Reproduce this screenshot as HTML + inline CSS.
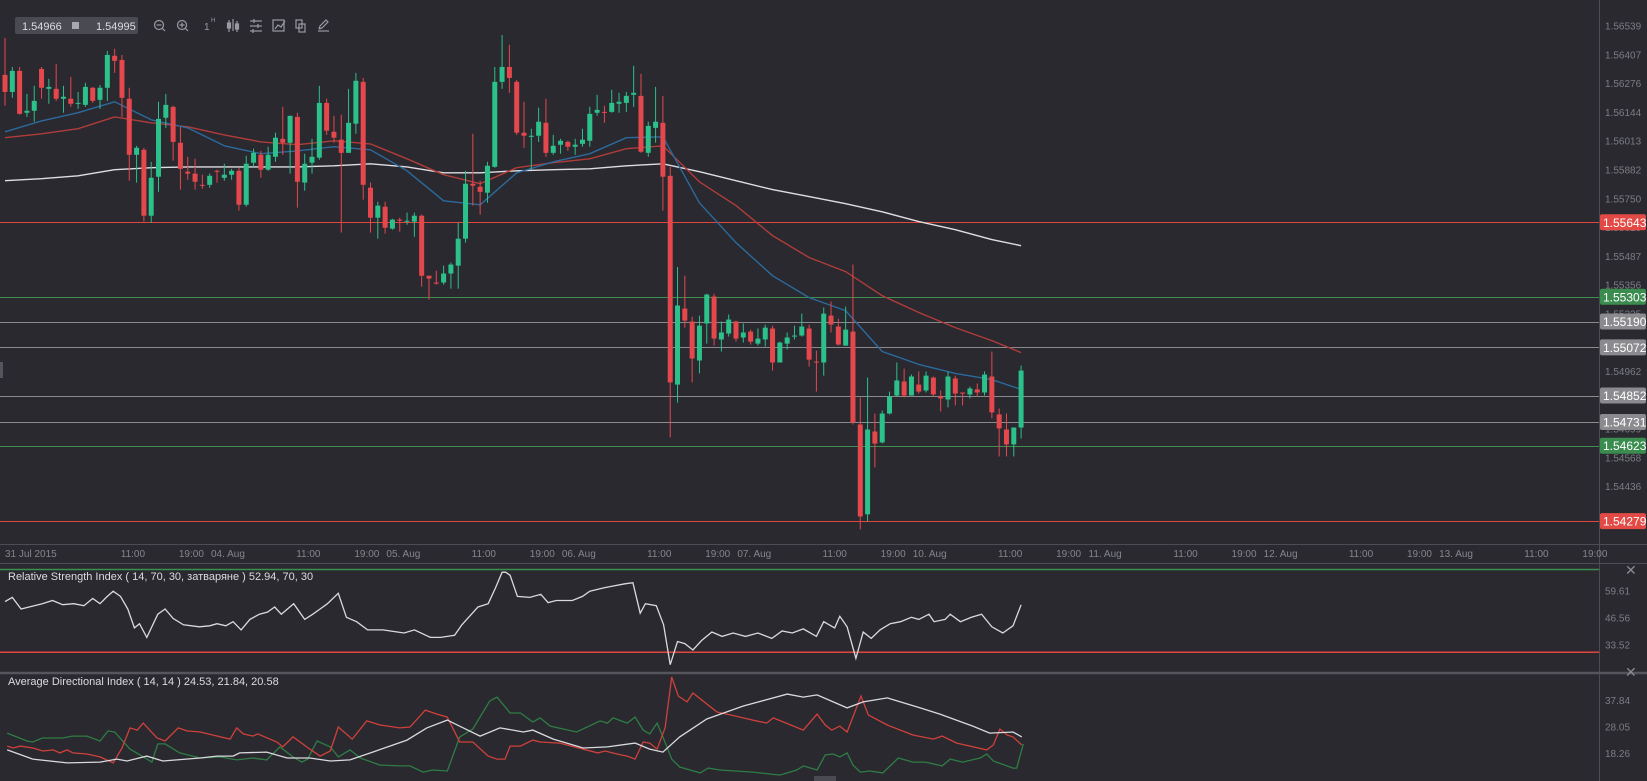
<!DOCTYPE html>
<html><head><meta charset="utf-8"><title>GBP chart</title>
<style>
html,body{margin:0;padding:0;background:#29292f;}
svg{display:block;font-family:"Liberation Sans",sans-serif;}
</style></head>
<body>
<svg id="chart" width="1647" height="781" viewBox="0 0 1647 781" xmlns="http://www.w3.org/2000/svg">
<rect x="0" y="0" width="1647" height="781" fill="#29292f"/>
<g id="levels"></g>
<g id="mas"></g>
<g id="candles"></g>
<g id="paxis"></g>
<g id="taxis"></g>
<g id="rsi"></g>
<g id="adx"></g>
<g>
  <rect x="15" y="17" width="123" height="17" rx="2" fill="#4a4a53"/>
  <text x="22" y="30" font-size="11" fill="#dcdce0">1.54966</text>
  <rect x="72" y="22" width="7" height="7" fill="#a8a8b0"/>
  <text x="96" y="30" font-size="11" fill="#dcdce0">1.54995</text>
  <g stroke="#9a9aa2" fill="none" stroke-width="1.2"><circle cx="159" cy="25" r="4.5"/><line x1="156.5" y1="25" x2="161.5" y2="25"/><line x1="162.5" y1="28.5" x2="165" y2="31"/></g>
  <g stroke="#9a9aa2" fill="none" stroke-width="1.2"><circle cx="182" cy="25" r="4.5"/><line x1="179.5" y1="25" x2="184.5" y2="25"/><line x1="182" y1="22.5" x2="182" y2="27.5"/><line x1="185.5" y1="28.5" x2="188" y2="31"/></g>
  <text x="204" y="30" font-size="10" fill="#9a9aa2">1</text>
  <text x="211" y="22" font-size="6" fill="#9a9aa2">H</text>
  <g stroke="#9a9aa2" stroke-width="1.2"><line x1="229" y1="20" x2="229" y2="32"/><line x1="233" y1="19" x2="233" y2="31"/><line x1="237" y1="21" x2="237" y2="32"/><rect x="227.5" y="23" width="3" height="5" fill="#9a9aa2"/><rect x="235.5" y="24" width="3" height="5" fill="#9a9aa2"/></g>
  <g stroke="#9a9aa2" stroke-width="1.2"><line x1="250" y1="21" x2="262" y2="21"/><line x1="250" y1="26" x2="262" y2="26"/><line x1="250" y1="31" x2="262" y2="31"/><line x1="254" y1="19" x2="254" y2="23"/><line x1="258" y1="24" x2="258" y2="28"/><line x1="253" y1="29" x2="253" y2="33"/></g>
  <g stroke="#9a9aa2" fill="none" stroke-width="1.2"><rect x="273" y="20" width="11" height="11"/><polyline points="275,29 278,25 281,27 285,21"/></g>
  <g stroke="#9a9aa2" fill="none" stroke-width="1.2"><rect x="296" y="20" width="6" height="8"/><rect x="299" y="24" width="6" height="8"/></g>
  <g stroke="#9a9aa2" fill="none" stroke-width="1.2"><line x1="318" y1="31" x2="329" y2="31"/><polyline points="319,29 320,26 326,20 328,22 322,28 319,29"/></g>
</g>
<rect x="0" y="362" width="3" height="16" fill="#55555d"/>
<rect x="814" y="776" width="22" height="5" fill="#4a4a53"/>
</svg>
<script>
// ---------------- data ----------------
const openP=[1.56316,1.56238,1.56334,1.56143,1.56152,1.56343,1.56252,1.56252,1.56207,1.56207,
1.56184,1.56179,1.56257,1.56202,1.56257,1.56403,1.56384,1.56207,1.55951,1.55974,
1.55673,1.55851,1.56120,1.56170,1.56006,1.55874,1.55865,1.55814,1.55814,1.55878,
1.55846,1.55860,1.55878,1.55723,1.55915,1.55951,1.55883,1.55942,1.56024,1.56006,
1.56124,1.55824,1.55915,1.55938,1.56188,1.56056,1.56020,1.55960,1.56093,1.56284,
1.55801,1.55664,1.55714,1.55614,1.55655,1.55646,1.55646,1.55673,1.55399,1.55368,
1.55368,1.55409,1.55445,1.55568,1.55819,1.55805,1.55778,1.55896,1.56284,1.56352,
1.56284,1.56052,1.56033,1.56038,1.56097,1.55960,1.55997,1.56010,1.55988,1.56001,
1.56015,1.56143,1.56147,1.56147,1.56184,1.56188,1.56225,1.56220,1.55960,1.56074,
1.56097,1.55855,1.54902,1.55249,1.55190,1.55012,1.55181,1.55304,1.55108,1.55135,
1.55190,1.55117,1.55144,1.55089,1.55108,1.55158,1.55003,1.55089,1.55121,1.55126,
1.55158,1.55007,1.55003,1.55217,1.55167,1.55080,1.55144,1.54720,1.54310,1.54688,
1.54638,1.54770,1.54852,1.54916,1.54852,1.54902,1.54875,1.54934,1.54848,1.54834,
1.54930,1.54866,1.54857,1.54880,1.54866,1.54939,1.54766,1.54697,1.54629,1.54706];
const highP=[1.56485,1.56352,1.56352,1.56229,1.56266,1.56352,1.56298,1.56366,1.56266,1.56307,
1.56238,1.56280,1.56261,1.56270,1.56425,1.56435,1.56407,1.56257,1.55992,1.55983,
1.55919,1.56193,1.56229,1.56175,1.56079,1.55942,1.55933,1.55860,1.55865,1.55883,
1.55910,1.55887,1.55892,1.55947,1.55979,1.55969,1.55988,1.56052,1.56170,1.56129,
1.56143,1.55956,1.56024,1.56266,1.56207,1.56129,1.56134,1.56252,1.56325,1.56302,
1.55824,1.55737,1.55737,1.55659,1.55664,1.55687,1.55687,1.55678,1.55399,1.55422,
1.55445,1.55459,1.55641,1.55878,1.56047,1.55833,1.55919,1.56352,1.56498,1.56453,
1.56293,1.56193,1.56070,1.56166,1.56207,1.56042,1.56024,1.56015,1.56024,1.56070,
1.56170,1.56225,1.56175,1.56248,1.56234,1.56238,1.56357,1.56321,1.56102,1.56261,
1.56220,1.55896,1.55439,1.55399,1.55212,1.55217,1.55317,1.55317,1.55190,1.55222,
1.55194,1.55181,1.55153,1.55158,1.55176,1.55171,1.55098,1.55140,1.55171,1.55226,
1.55176,1.55057,1.55254,1.55281,1.55203,1.55258,1.55450,1.54843,1.54934,1.54770,
1.54784,1.54870,1.55003,1.54975,1.54948,1.54962,1.54962,1.54939,1.54875,1.54962,
1.54943,1.54866,1.54893,1.54907,1.54962,1.55053,1.54793,1.54770,1.54706,1.54989];
const lowP=[1.56175,1.56211,1.56134,1.56124,1.56102,1.56207,1.56184,1.56197,1.56143,1.56170,
1.56161,1.56170,1.56188,1.56161,1.56197,1.56325,1.56124,1.55833,1.55824,1.55646,
1.55641,1.55782,1.56074,1.55924,1.55792,1.55837,1.55792,1.55796,1.55801,1.55824,
1.55833,1.55837,1.55696,1.55714,1.55896,1.55846,1.55878,1.55919,1.55951,1.55865,
1.55710,1.55787,1.55865,1.55928,1.56042,1.56006,1.55596,1.55960,1.56047,1.55746,
1.55596,1.55568,1.55591,1.55609,1.55600,1.55632,1.55577,1.55349,1.55290,1.55358,
1.55358,1.55340,1.55340,1.55550,1.55719,1.55678,1.55732,1.55892,1.56252,1.56234,
1.56042,1.55983,1.55883,1.56010,1.55942,1.55951,1.55956,1.55969,1.55951,1.55988,
1.55988,1.56129,1.56097,1.56143,1.56143,1.56147,1.56170,1.55960,1.55942,1.56006,
1.55696,1.54661,1.54820,1.55162,1.54912,1.54953,1.55089,1.55080,1.55053,1.55121,
1.55098,1.55094,1.55085,1.55080,1.55076,1.54966,1.55003,1.55062,1.55108,1.55121,
1.54984,1.54870,1.54943,1.55140,1.55080,1.55080,1.54720,1.54241,1.54278,1.54524,
1.54633,1.54766,1.54848,1.54843,1.54852,1.54861,1.54866,1.54848,1.54779,1.54798,
1.54807,1.54807,1.54839,1.54848,1.54852,1.54748,1.54574,1.54574,1.54574,1.54656];
const closeP=[1.56238,1.56334,1.56138,1.56152,1.56197,1.56257,1.56261,1.56207,1.56216,1.56184,
1.56188,1.56261,1.56197,1.56257,1.56407,1.56380,1.56211,1.55951,1.55983,1.55673,
1.55846,1.56115,1.56179,1.56010,1.55887,1.55865,1.55828,1.55810,1.55855,1.55874,
1.55860,1.55878,1.55723,1.55910,1.55960,1.55883,1.55951,1.56029,1.56006,1.56129,
1.55828,1.55910,1.55942,1.56188,1.56061,1.56029,1.55960,1.56097,1.56289,1.55814,
1.55664,1.55719,1.55618,1.55655,1.55650,1.55650,1.55673,1.55399,1.55386,1.55363,
1.55409,1.55450,1.55568,1.55819,1.55810,1.55782,1.55901,1.56284,1.56352,1.56302,
1.56052,1.56038,1.56038,1.56102,1.55960,1.55992,1.56015,1.55988,1.55997,1.56020,
1.56138,1.56156,1.56143,1.56188,1.56193,1.56220,1.56234,1.55965,1.56083,1.56102,
1.55851,1.54912,1.55263,1.55194,1.55021,1.55171,1.55313,1.55112,1.55140,1.55199,
1.55112,1.55140,1.55098,1.55112,1.55162,1.55003,1.55094,1.55117,1.55126,1.55167,
1.55016,1.55003,1.55226,1.55176,1.55085,1.55153,1.54729,1.54300,1.54697,1.54633,
1.54770,1.54848,1.54921,1.54852,1.54939,1.54870,1.54943,1.54857,1.54839,1.54939,
1.54861,1.54861,1.54884,1.54866,1.54948,1.54775,1.54702,1.54629,1.54706,1.54966];

const maIdx=[0,5,10,15,20,25,30,35,40,45,50,55,60,65,70,75,80,85,90,95,100,105,110,115,120,125,130,135,139];
const maFast=[1.56056,1.56106,1.56143,1.56193,1.56111,1.56074,1.55992,1.55956,1.55969,1.55988,1.55974,1.55878,1.55741,1.55723,1.55869,1.55919,1.55956,1.56029,1.56033,1.55732,1.55550,1.55399,1.55299,1.55240,1.55053,1.54994,1.54953,1.54925,1.54880];
const maMid=[1.56029,1.56047,1.56070,1.56124,1.56097,1.56079,1.56042,1.56010,1.55997,1.56015,1.56001,1.55933,1.55860,1.55819,1.55892,1.55915,1.55933,1.55979,1.55992,1.55828,1.55719,1.55582,1.55482,1.55418,1.55308,1.55231,1.55162,1.55103,1.55048];
const maSlow=[1.55833,1.55842,1.55855,1.55883,1.55892,1.55896,1.55896,1.55896,1.55896,1.55901,1.55910,1.55896,1.55869,1.55869,1.55878,1.55883,1.55887,1.55901,1.55910,1.55874,1.55833,1.55792,1.55760,1.55728,1.55691,1.55646,1.55609,1.55564,1.55536];

const levelPrices=[1.55643,1.55303,1.55190,1.55072,1.54852,1.54731,1.54623,1.54279];
const levelKinds=["red","green","gray","gray","gray","gray","green","red"];
const priceTicks=[1.56539,1.56407,1.56276,1.56144,1.56013,1.55882,1.55750,1.55619,1.55487,1.55356,1.55225,1.55093,1.54962,1.54831,1.54699,1.54568,1.54436];

const timeLabels=["11:00","19:00","04. Aug","11:00","19:00","05. Aug","11:00","19:00","06. Aug","11:00","19:00","07. Aug","11:00","19:00","10. Aug","11:00","19:00","11. Aug","11:00","19:00","12. Aug","11:00","19:00","13. Aug","11:00","19:00"];
const timeLabelHours=[0,8,13,24,32,37,48,56,61,72,80,85,96,104,109,120,128,133,144,152,157,168,176,181,192,200];

const rsiIdx=[0,1,2.2,3.3,5.1,6.5,7.9,9.4,10.8,12,13,14,14.8,15.8,16.8,17.7,18.4,19.4,20.9,21.9,23,24.4,26.6,28,29,30.2,31.2,32.3,33.5,34.8,35.9,36.9,37.8,39.5,41,42.1,43.1,44.1,45.6,46.7,48.1,49.6,51.7,54.6,56,58.2,59.6,61.5,62.5,64.7,66.1,67.1,68,68.5,69.1,70.1,71.8,73.3,74.3,75.4,77.6,79,80,81.9,83.3,84.8,85.9,86.9,87.6,89.1,90.1,91,92,93,94.1,95.3,96.7,98.1,99.6,101.3,103,104.9,106.3,107.7,109.2,111,112,113.5,114.2,115.2,116.4,117.4,118.5,119.7,121.1,122.5,124,125,126.4,127.1,128.6,129.3,130.7,132.2,133.6,135,136.5,137.9,139];
const rsiVal=[54.5,56.5,50.9,51.9,53.5,55.0,53.0,53.5,52.5,56.0,53.5,57.0,59.5,57.0,50.9,41.8,43.8,37.2,48.4,50.9,46.4,43.3,42.3,42.8,43.8,42.8,44.8,40.8,45.9,48.4,49.4,51.9,48.4,53.5,45.9,48.4,50.9,53.5,58.5,46.9,44.8,40.8,40.8,39.3,40.8,37.2,37.2,38.2,43.3,51.9,53.5,61.1,68.7,68.7,67.2,57.0,56.5,58.0,54.0,55.0,55.0,57.0,59.5,61.1,62.1,63.1,63.6,48.9,53.5,52.5,43.3,24.0,35.2,34.2,31.1,35.7,39.8,37.7,39.3,37.7,39.3,36.7,40.3,39.3,41.3,37.7,44.8,41.8,47.4,42.3,27.1,39.8,36.7,40.8,43.8,44.8,46.9,45.9,48.4,44.8,45.9,48.4,44.8,46.9,48.4,42.3,39.3,42.8,52.94];
const rsiTicks=[59.61,46.56,33.52];

const pdiIdx=[0.3,3,3.8,5.1,7.9,9.2,11.2,13,14.1,15,17.1,18.5,20.1,20.9,21.9,23.9,26.7,29.4,31.7,33.9,35.8,37.6,39.4,40.6,41.4,42.7,44.5,45.6,47.2,48.6,51.3,54,55.4,57.2,58.5,60.5,62.2,64,66.3,67.3,69.1,70.5,72.2,73.2,74.6,78.2,81.4,82.4,83.2,85.1,86.2,87.3,88.2,89.2,90,91.2,92.3,95.1,96.2,97.8,102.3,106,108.3,109.2,111.1,112.2,113.3,114.2,115.2,116,117,118.3,120.1,122.2,124.2,125.9,128.2,129.3,131,133.4,134.3,135.2,137.9,138.4,139.3];
const pdiVal=[25.8,22.9,22.5,24.0,24.0,24.7,24.7,22.9,26.6,26.2,19.9,17.7,15.1,21.8,21.8,18.5,16.6,17.0,15.9,16.6,15.9,20.7,17.0,15.1,16.2,22.9,20.7,17.0,19.6,16.6,14.0,13.7,13.7,11.4,12.2,11.8,24.4,27.3,37.6,39.1,33.2,33.2,29.9,31.4,28.4,26.2,30.3,29.5,31.4,29.5,31.7,26.9,25.5,29.5,24.4,16.2,13.3,11.1,12.9,12.2,11.4,10.3,12.2,13.7,12.2,17.7,18.1,17.0,18.5,14.0,11.4,11.8,11.1,16.6,15.1,15.1,13.7,16.2,15.1,16.6,18.1,15.5,12.9,12.9,21.8];
const mdiIdx=[0.3,1.1,2.1,3.8,5.2,6.6,7.5,8.5,9.3,11.2,13,14.8,16,17.1,18.1,18.9,20.8,21.9,23.7,24.9,26.7,30.8,31.7,32.6,33.9,34.6,37.2,38,39.4,41.7,43.1,44.5,45.6,47.5,49.5,51.3,54,55.4,57.5,59.1,60.5,62.2,64,66.1,67.3,68.4,69.1,70.5,72.2,73.2,75.9,81.1,82.1,83.7,85.1,86.2,87.3,88.2,89.2,90.3,91.2,92.1,93.3,94.1,97.4,99.2,102.3,104.2,105.1,109.2,111.1,112.2,113.1,114.2,115.2,117.1,118.1,120.7,124.2,127,128.2,130.2,134.3,135.2,136.1,137.1,137.9,139.1];
const mdiVal=[21.0,20.3,21.0,20.3,19.2,19.6,18.5,19.6,18.5,18.1,17.0,14.8,20.3,27.7,26.9,29.5,24.0,22.9,27.7,26.6,26.2,23.6,27.7,25.5,24.7,25.5,22.5,20.7,24.4,19.9,17.3,19.2,28.05,23.6,30.3,28.8,27.7,28.05,34.3,32.8,31.7,22.5,22.5,17.3,16.2,16.2,21.0,21.0,23.2,22.5,22.1,18.5,19.2,18.1,17.3,16.2,22.5,22.1,19.9,27.7,46.5,39.5,37.3,40.6,33.6,32.5,30.6,29.5,31.4,26.9,32.8,28.8,26.9,28.4,26.2,39.5,32.5,28.8,25.1,23.6,24.7,22.1,19.6,21.4,27.3,25.1,24.4,21.4];
const adxIdx=[0.3,3.8,8.5,13,15.3,16.7,19.4,21.6,26.7,29,31.2,32.1,35.8,38.6,41.7,44.5,47.2,50.3,55,57.7,60.5,62.7,65,67.7,69.5,70.9,72.2,75,79.1,82.4,86.2,88.2,90,92.3,96,101,107,109.2,111.1,113.3,115.2,117.4,120.7,125.2,127.9,132.4,134.7,137.9,139.1];
const adxVal=[19.6,16.2,14.8,15.1,16.2,15.5,17.3,15.5,16.6,17.3,17.3,18.5,18.8,16.6,16.6,15.5,15.9,18.8,23.2,27.7,30.6,27.7,24.7,27.7,26.9,26.2,26.9,23.6,20.3,20.7,22.1,19.9,18.8,24.4,31.0,35.8,40.2,39.1,39.9,37.3,35.1,37.3,38.8,35.1,32.8,28.4,25.8,26.2,24.4];
const adxTicks=[37.84,28.05,18.26];

// ---------------- scales ----------------
const NS="http://www.w3.org/2000/svg";
const PLOT_R=1599;
function xOf(i){return 5+i*7.31;}
function yP(p){return 26+(1.56539-p)*21906;}
function yR(v){return 569.5+(70-v)*2.07;}
function yA(v){return 727+(28.05-v)*2.71;}
function mk(tag,attrs,parent){const e=document.createElementNS(NS,tag);for(const k in attrs)e.setAttribute(k,attrs[k]);parent.appendChild(e);return e;}

// levels
const gL=document.getElementById('levels');
const lvlColor={red:"#e0463f",green:"#3c8f4e",gray:"#8a8a8e"};
levelPrices.forEach((p,k)=>{
  const y=Math.round(yP(p))+0.5;
  const ln=mk('line',{x1:0,x2:PLOT_R,y1:y,y2:y,stroke:lvlColor[levelKinds[k]],'stroke-width':1},gL);
  
  
});

// MAs
const gM=document.getElementById('mas');
function maLine(vals,color,name){
  const pts=vals.map((v,k)=>xOf(maIdx[k]).toFixed(1)+','+yP(v).toFixed(1)).join(' ');
  const pl=mk('polyline',{points:pts,fill:'none',stroke:color,'stroke-width':1.4,'stroke-linejoin':'round'},gM);
  
  
}
maLine(maSlow,'#dedee2','ma-slow-line');
maLine(maMid,'#b03c3a','ma-mid-line');
maLine(maFast,'#2c6a9c','ma-fast-line');

// candles
const gC=document.getElementById('candles');
for(let i=0;i<openP.length;i++){
  const up=closeP[i]>=openP[i];
  const col=up?'#2cc08a':'#e4484d';
  const x=xOf(i);
  const g=mk('g',{},gC);
  
  
  mk('line',{x1:x,x2:x,y1:yP(highP[i]),y2:yP(lowP[i]),stroke:col,'stroke-width':1},g);
  const t=yP(Math.max(openP[i],closeP[i])),b=yP(Math.min(openP[i],closeP[i]));
  mk('rect',{x:x-2.5,y:t,width:5,height:Math.max(1,b-t),fill:col},g);
}

// price axis
const gP=document.getElementById('paxis');
const ax=mk('line',{x1:PLOT_R+0.5,x2:PLOT_R+0.5,y1:0,y2:781,stroke:'#4c4c54','stroke-width':1},gP);


priceTicks.forEach(p=>{
  const t=mk('text',{x:1605,y:yP(p)+3.5,'font-size':10,fill:'#7c7c84'},gP);
  
  
  t.textContent=p.toFixed(5);
});
const boxColor={red:"#e34a45",green:"#3b8c4f",gray:"#8b8b8f"};
levelPrices.forEach((p,k)=>{
  const y=yP(p);
  const g=mk('g',{},gP);
  
  
  mk('rect',{x:1600,y:y-8,width:46,height:16,rx:2,fill:boxColor[levelKinds[k]]},g);
  const t=mk('text',{x:1603,y:y+4.5,'font-size':12,fill:'#ffffff'},g);
  t.textContent=p.toFixed(5);
});

// time axis
const gT=document.getElementById('taxis');
mk('line',{x1:0,x2:1647,y1:544.5,y2:544.5,stroke:'#4c4c54'},gT);
mk('line',{x1:0,x2:1647,y1:563.5,y2:563.5,stroke:'#4c4c54'},gT);
const first=mk('text',{x:5,y:557,'font-size':10,fill:'#85858d'},gT);


first.textContent='31 Jul 2015';
timeLabels.forEach((s,k)=>{
  const t=mk('text',{x:xOf(17.5+timeLabelHours[k]),y:557,'font-size':10,fill:'#85858d','text-anchor':'middle'},gT);
  
  
  t.textContent=s;
});

// RSI
const gR=document.getElementById('rsi');
mk('line',{x1:0,x2:PLOT_R,y1:yR(70),y2:yR(70),stroke:'#3c8f4e','stroke-width':1.5},gR);
mk('line',{x1:0,x2:PLOT_R,y1:yR(30),y2:yR(30),stroke:'#e0463f','stroke-width':1.5},gR);
const rt=mk('text',{x:8,y:580,'font-size':11,fill:'#dcdce0'},gR);


rt.textContent='Relative Strength Index ( 14, 70, 30, затваряне ) 52.94, 70, 30';
rsiTicks.forEach(v=>{
  const t=mk('text',{x:1605,y:yR(v)+3.5,'font-size':10,fill:'#7c7c84'},gR);
  
  
  t.textContent=v.toFixed(2);
});
const rl=mk('polyline',{points:rsiVal.map((v,k)=>xOf(rsiIdx[k]).toFixed(1)+','+yR(v).toFixed(1)).join(' '),fill:'none',stroke:'#dadade','stroke-width':1.3},gR);


const rx=mk('text',{x:1625,y:575,'font-size':14,fill:'#8a8a92'},gR);


rx.textContent='✕';

// ADX
const gA=document.getElementById('adx');
mk('line',{x1:0,x2:1647,y1:673,y2:673,stroke:'#55555e','stroke-width':2.5},gA);
const at=mk('text',{x:8,y:685,'font-size':11,fill:'#dcdce0'},gA);


at.textContent='Average Directional Index ( 14, 14 ) 24.53, 21.84, 20.58';
adxTicks.forEach(v=>{
  const t=mk('text',{x:1605,y:yA(v)+3.5,'font-size':10,fill:'#7c7c84'},gA);
  
  
  t.textContent=v.toFixed(2);
});
function adxLine(idx,vals,color,name){
  const pl=mk('polyline',{points:vals.map((v,k)=>xOf(idx[k]).toFixed(1)+','+yA(v).toFixed(1)).join(' '),fill:'none',stroke:color,'stroke-width':1.3},gA);
  
  
}
adxLine(pdiIdx,pdiVal,'#2f7d45','plus-di-line');
adxLine(mdiIdx,mdiVal,'#d0413b','minus-di-line');
adxLine(adxIdx,adxVal,'#dadade','adx-line');
const axx=mk('text',{x:1625,y:677,'font-size':14,fill:'#8a8a92'},gA);


axx.textContent='✕';
</script>
</body></html>
